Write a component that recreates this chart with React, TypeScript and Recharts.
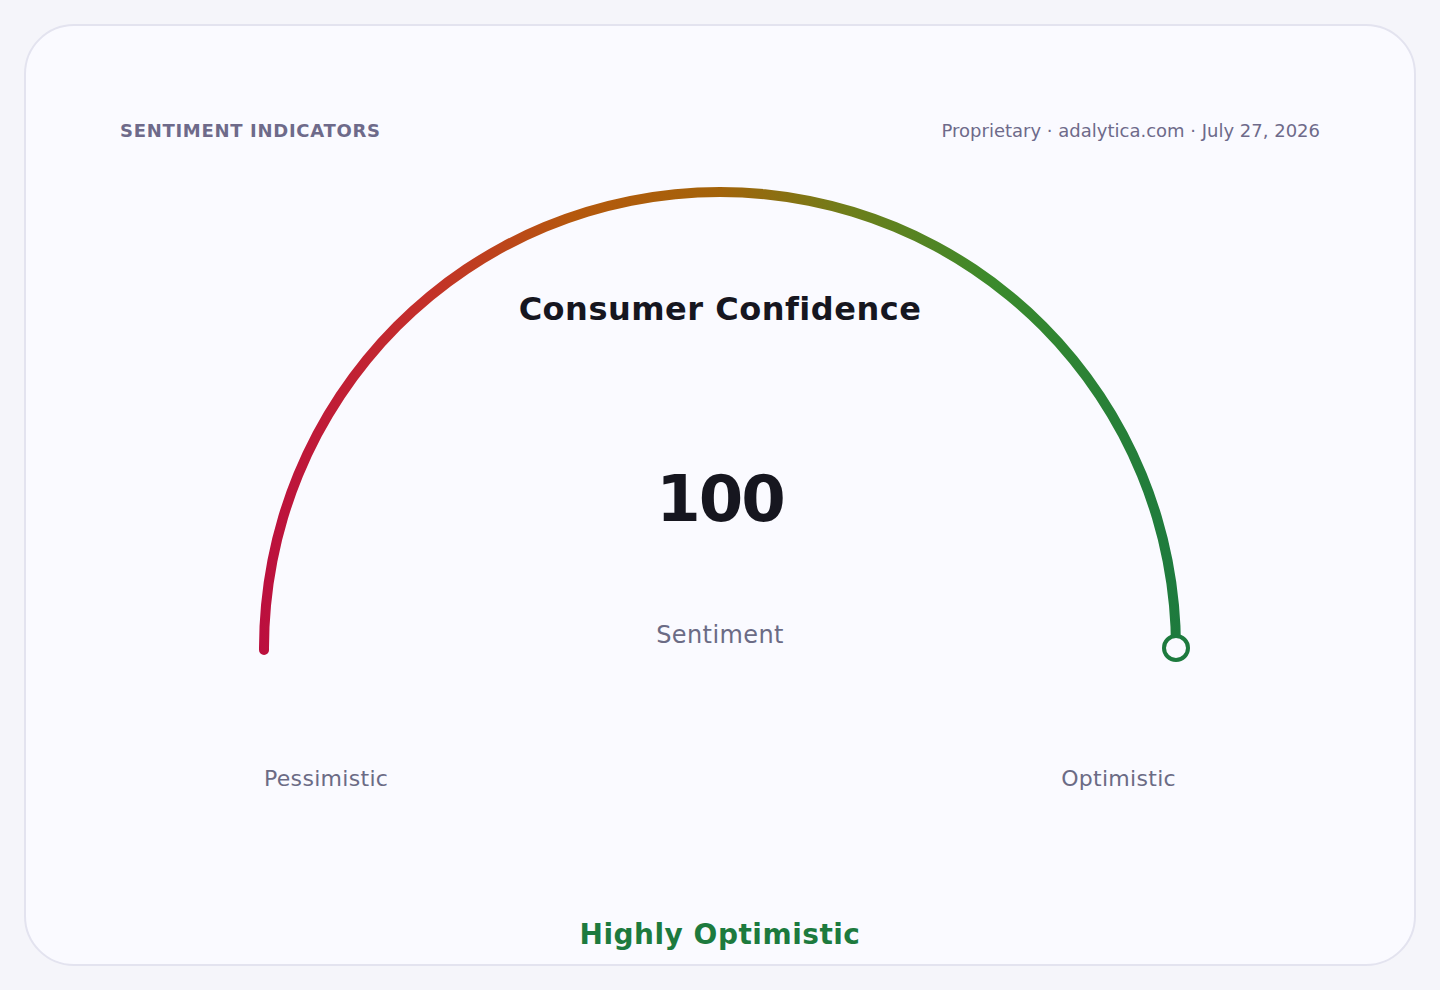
import React from "react";
import { PieChart, Pie, Cell } from "recharts";

// ---- data ----
const gaugeTitle = "Consumer Confidence";
const gaugeValue = 100;
const gaugeMin = 0;
const gaugeMax = 100;
const valueLabel = "Sentiment";
const rangeLabels = ["Pessimistic", "Optimistic"];
const statusLabel = "Highly Optimistic";
const headerLeft = "SENTIMENT INDICATORS";
const headerRight = "Proprietary · adalytica.com · July 27, 2026";
const gradientStops = [
  { offset: "0%", color: "#bb0f3e" },
  { offset: "8%", color: "#c01d36" },
  { offset: "18%", color: "#c4302a" },
  { offset: "34%", color: "#b5580d" },
  { offset: "50%", color: "#a3630a" },
  { offset: "64%", color: "#6e7e1a" },
  { offset: "80%", color: "#3a8a2c" },
  { offset: "100%", color: "#1d7a3e" },
];

const W = 1440;
const H = 990;
const CX = 720;
const CY = 648;
const R_IN = 451;
const R_OUT = 461;
const CAP = 5;
const FONT = "'DejaVu Sans', Verdana, sans-serif";

export default function App() {
  const frac = (gaugeValue - gaugeMin) / (gaugeMax - gaugeMin);
  const valueAngle = 180 - 180 * frac;
  const rMid = (R_IN + R_OUT) / 2;
  // extend by about the round-cap size so the rounded ends sit past the end points
  const capDeg = ((CAP * 1.4) / rMid) * (180 / Math.PI);
  const data = [
    { name: "value", value: gaugeValue - gaugeMin },
    { name: "rest", value: gaugeMax - gaugeValue },
  ];
  const rad = (valueAngle * Math.PI) / 180;
  const mx = CX + rMid * Math.cos(rad);
  const my = CY - rMid * Math.sin(rad);

  return (
    <div
      style={{
        position: "absolute",
        left: 0,
        top: 0,
        width: W,
        height: H,
        background: "#f5f5fa",
        fontFamily: FONT,
      }}
    >
      <div
        style={{
          position: "absolute",
          left: 24,
          top: 24,
          width: 1392,
          height: 942,
          boxSizing: "border-box",
          border: "2px solid #e3e3ef",
          borderRadius: 50,
          background: "#fafaff",
        }}
      />
      <div style={{ position: "absolute", left: 0, top: 0 }}>
        <PieChart width={W} height={H} margin={{ top: 0, right: 0, bottom: 0, left: 0 }}>
          <defs>
            <linearGradient
              id="gaugeGrad"
              gradientUnits="userSpaceOnUse"
              x1={CX - R_OUT}
              y1={0}
              x2={CX + R_OUT}
              y2={0}
            >
              {gradientStops.map((s) => (
                <stop key={s.offset} offset={s.offset} stopColor={s.color} />
              ))}
            </linearGradient>
          </defs>
          <Pie
            data={data}
            dataKey="value"
            cx={CX}
            cy={CY}
            innerRadius={R_IN}
            outerRadius={R_OUT}
            startAngle={180 + capDeg}
            endAngle={0 - capDeg}
            cornerRadius={CAP}
            stroke="none"
            isAnimationActive={false}
          >
            <Cell fill="url(#gaugeGrad)" />
            <Cell fill="transparent" />
          </Pie>
          <text x={120} y={137} fontFamily={FONT} fontSize={18} fontWeight={700} fill="#6e6a8a" letterSpacing={0.7}>
            {headerLeft}
          </text>
          <text x={1320} y={137} textAnchor="end" fontFamily={FONT} fontSize={18} fill="#6e6a8a">
            {headerRight}
          </text>
          <text x={CX} y={320} textAnchor="middle" fontFamily={FONT} fontSize={32} fontWeight={700} fill="#16161f" letterSpacing={0.5}>
            {gaugeTitle}
          </text>
          <text x={CX} y={521} textAnchor="middle" fontFamily={FONT} fontSize={64} fontWeight={700} fill="#16161f" letterSpacing={-2}>
            {gaugeValue}
          </text>
          <text x={CX} y={643} textAnchor="middle" fontFamily={FONT} fontSize={24} fill="#6b6b85" letterSpacing={0.4}>
            {valueLabel}
          </text>
          <text x={CX - rMid} y={786} textAnchor="start" fontFamily={FONT} fontSize={22} fill="#6b6b85" letterSpacing={0.3}>
            {rangeLabels[0]}
          </text>
          <text x={CX + rMid} y={786} textAnchor="end" fontFamily={FONT} fontSize={22} fill="#6b6b85" letterSpacing={0.3}>
            {rangeLabels[1]}
          </text>
          <text x={CX} y={944} textAnchor="middle" fontFamily={FONT} fontSize={28} fontWeight={700} fill="#1d7a3e" letterSpacing={0.5}>
            {statusLabel}
          </text>
        </PieChart>
      </div>
      <svg
        width={W}
        height={H}
        style={{ position: "absolute", left: 0, top: 0, pointerEvents: "none" }}
      >
        <circle cx={mx} cy={my} r={12} fill="#fafaff" stroke="#1d7a3e" strokeWidth={4} />
      </svg>
    </div>
  );
}
